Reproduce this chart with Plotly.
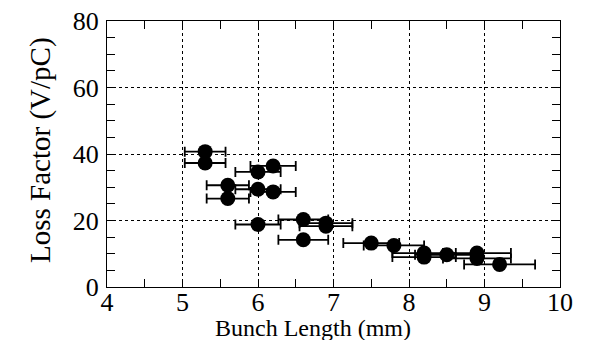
import plotly.graph_objects as go

bunch_length = [5.3, 5.3, 5.6, 5.6, 6.0, 6.2, 6.0, 6.2, 6.0, 6.6, 6.9, 6.9, 6.6,
                7.5, 7.8, 8.2, 8.2, 8.5, 8.9, 8.9, 9.2]
loss_factor = [40.7, 37.3, 30.6, 26.6, 34.6, 36.4, 29.4, 28.6, 18.8, 20.3, 19.2,
               18.3, 14.2, 13.2, 12.5, 10.2, 9.0, 9.7, 10.2, 8.6, 6.8]
bunch_err = [0.27, 0.27, 0.28, 0.28, 0.3, 0.3, 0.3, 0.3, 0.3, 0.33, 0.35, 0.35, 0.33,
             0.37, 0.4, 0.42, 0.42, 0.42, 0.45, 0.45, 0.47]

x_ticks = [4, 5, 6, 7, 8, 9, 10]
y_ticks = [0, 20, 40, 60, 80]

FONT = "Liberation Serif, Times New Roman, serif"

fig = go.Figure()
fig.add_trace(go.Scatter(
    x=bunch_length, y=loss_factor, mode="markers",
    marker=dict(color="black", size=15, line=dict(width=0)),
    error_x=dict(type="data", array=bunch_err, symmetric=True,
                 color="black", thickness=1.8, width=5),
    showlegend=False,
))

axis_common = dict(
    showline=True, linecolor="black", linewidth=1.2, mirror="ticks",
    ticks="inside", ticklen=8, tickwidth=1, tickcolor="black",
    showgrid=True, gridcolor="black", gridwidth=1, griddash="dot",
    zeroline=False, automargin=False, ticklabeloverflow="allow",
    tickfont=dict(family=FONT, size=26, color="black"),
)

fig.update_xaxes(
    range=[4, 10], tickvals=x_ticks, ticktext=[str(v) for v in x_ticks],
    minor=dict(dtick=0.5, ticks="inside", ticklen=8, tickcolor="black", showgrid=False),
    ticklabelstandoff=-8,
    **axis_common,
)
fig.update_yaxes(
    range=[0, 80], tickvals=y_ticks, ticktext=[str(v) for v in y_ticks],
    minor=dict(dtick=5, ticks="inside", ticklen=8, tickcolor="black", showgrid=False),
    ticklabelstandoff=2,
    **axis_common,
)

fig.add_annotation(
    text="Bunch Length (mm)", xref="paper", yref="paper",
    x=0.455, y=-0.097, xanchor="center", yanchor="top",
    showarrow=False, font=dict(family=FONT, size=24, color="black"),
)
fig.add_annotation(
    text="Loss Factor (V/pC)", xref="paper", yref="paper",
    x=-0.148, y=0.515, xanchor="center", yanchor="middle", textangle=-90,
    showarrow=False, font=dict(family=FONT, size=29, color="black"),
)

fig.update_layout(
    width=581, height=332,
    margin=dict(l=99, r=29, t=13, b=53),
    paper_bgcolor="white", plot_bgcolor="white",
)

fig.write_html("out.html")
